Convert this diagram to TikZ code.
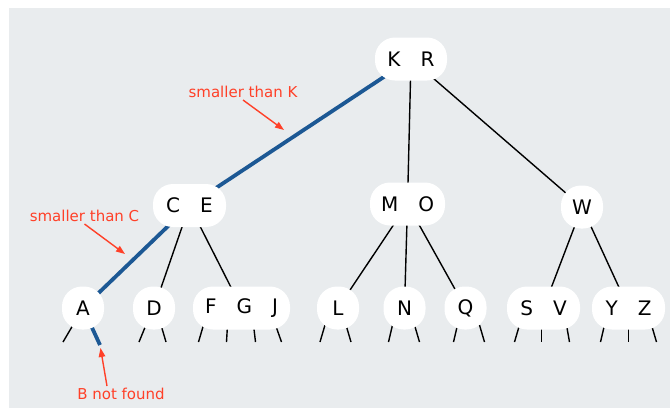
\documentclass[tikz,border=0pt]{standalone}
\usepackage{fontspec}
\setmainfont{DejaVu Sans}
\usetikzlibrary{arrows.meta, backgrounds}

\definecolor{panel}{RGB}{233,236,238}
\definecolor{pathblue}{RGB}{28,88,148}
\definecolor{notered}{RGB}{255,64,40}

\begin{document}
\begin{tikzpicture}[
  x=1pt, y=-1pt,
  key/.style={fill=white, rounded corners=20pt, inner sep=0pt,
              minimum width=42pt, minimum height=43pt,
              font=\fontsize{20}{23}\selectfont},
  link/.style={line width=1.4pt, black},
  hit/.style={line width=3.8pt, pathblue},
  note/.style={font=\fontsize{15}{18}\selectfont, text=notered, inner sep=2pt},
  pointer/.style={-{Triangle[length=9pt, width=6.5pt]}, line width=1.4pt, notered}
]
\useasboundingbox (0,0) rectangle (670,408);

% root and second level
\node[key, minimum width=72pt] (kr)  at (411,59)      {K\quad R};
\node[key, minimum width=73pt] (ce)  at (189.5,205.5) {C\quad E};
\node[key, minimum width=75pt] (mo)  at (407.5,204)   {M\quad O};
\node[key]                     (w)   at (582,207)     {W};

% leaves
\node[key]                     (a)   at (83,308)      {A};
\node[key]                     (d)   at (154,308)     {D};
\node[key, minimum width=97pt] (fgj) at (241.5,308)   {F\quad G\quad J};
\node[key]                     (l)   at (338,308)     {L};
\node[key]                     (n)   at (404.5,308)   {N};
\node[key]                     (q)   at (465.5,308)   {Q};
\node[key, minimum width=73pt] (sv)  at (543.5,308)   {S\quad V};
\node[key, minimum width=73pt] (yz)  at (628.5,308)   {Y\quad Z};

\coordinate (miss) at ([shift={(17,37)}]a.center);

% search annotations
\node[note] (notek) at (243,92)   {smaller than K};
\node[note] (notec) at (84.5,216) {smaller than C};
\node[note] (noteb) at (121,394)  {B not found};
\coordinate (ktip) at (284,130);
\coordinate (ctip) at (125,254);

\draw[pointer] (notek.south) -- (ktip);
\draw[pointer] (notec.south) -- (ctip);
\draw[pointer, shorten >=3pt] ([xshift=-14pt]noteb.north) -- (miss);

\begin{scope}[on background layer]
  \fill[white] (0,0) rectangle (670,408);
  \fill[panel] (9,8) rectangle (670,408);

  \draw[hit]  (kr.center) -- (ce.center);
  \draw[link] (kr.center) -- (mo.center);
  \draw[link] (kr.center) -- (w.center);

  \draw[hit]  (ce.center) -- (a.center);
  \draw[link] (ce.center) -- (d.center);
  \draw[link] (ce.center) -- (fgj.center);
  \draw[link] (mo.center) -- (l.center);
  \draw[link] (mo.center) -- (n.center);
  \draw[link] (mo.center) -- (q.center);
  \draw[link] (w.center)  -- (sv.center);
  \draw[link] (w.center)  -- (yz.center);

  % empty subtrees below the leaves
  \draw[hit] (a.center) -- (miss);
  \foreach \nd/\sx/\ex in {a/-10/-20, d/-8/-15, d/7/12,
                           fgj/-38/-43, fgj/-14/-15, fgj/12/14, fgj/34/40,
                           l/-13/-18, l/8/13, n/-12/-16, n/10/15, q/-8/-12, q/14/19,
                           sv/-24/-29, sv/-2/-2, sv/23/26,
                           yz/-24/-28, yz/0/0, yz/23/28}
    \draw[link] ([shift={(\sx,17)}]\nd.center) -- ([shift={(\ex,34)}]\nd.center);
\end{scope}
\end{tikzpicture}
\end{document}
